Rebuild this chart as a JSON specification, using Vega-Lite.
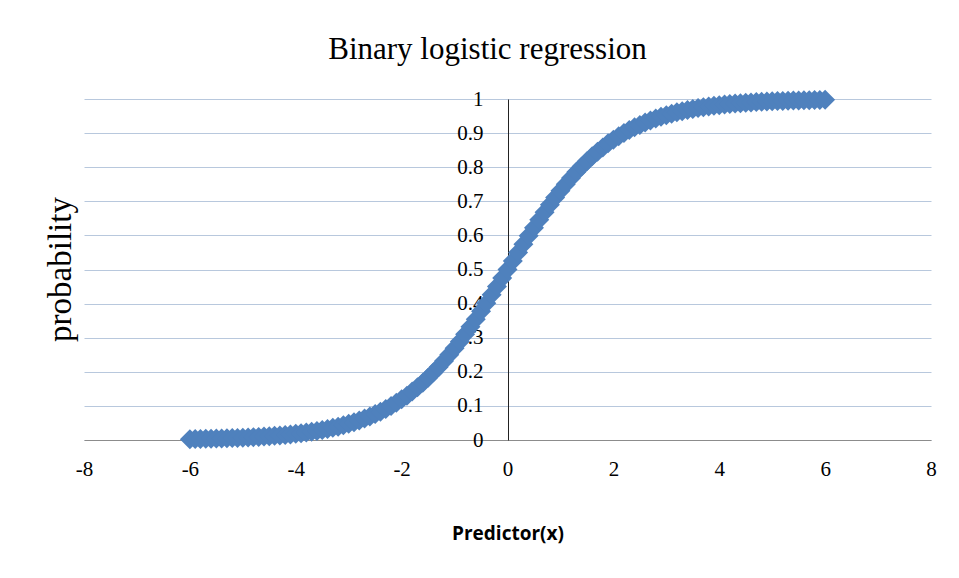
{
  "$schema": "https://vega.github.io/schema/vega-lite/v6.json",
  "width": 847,
  "height": 341,
  "autosize": {"type": "none"},
  "padding": {"left": 84, "top": 99, "right": 28, "bottom": 138},
  "background": "white",
  "title": {
    "text": "Binary logistic regression",
    "font": "Liberation Serif",
    "fontSize": 31,
    "fontWeight": "normal",
    "color": "#000000",
    "baseline": "alphabetic",
    "offset": -2,
    "dx": -20
  },
  "config": {
    "view": {"stroke": null}
  },
  "data": {
    "values": [
      {"x": -6.0, "p": 0.0025}, {"x": -5.9, "p": 0.0027}, {"x": -5.8, "p": 0.0030}, {"x": -5.7, "p": 0.0033}, {"x": -5.6, "p": 0.0037},
      {"x": -5.5, "p": 0.0041}, {"x": -5.4, "p": 0.0045}, {"x": -5.3, "p": 0.0050}, {"x": -5.2, "p": 0.0055}, {"x": -5.1, "p": 0.0061},
      {"x": -5.0, "p": 0.0067}, {"x": -4.9, "p": 0.0074}, {"x": -4.8, "p": 0.0082}, {"x": -4.7, "p": 0.0090}, {"x": -4.6, "p": 0.0100},
      {"x": -4.5, "p": 0.0110}, {"x": -4.4, "p": 0.0121}, {"x": -4.3, "p": 0.0134}, {"x": -4.2, "p": 0.0148}, {"x": -4.1, "p": 0.0163},
      {"x": -4.0, "p": 0.0180}, {"x": -3.9, "p": 0.0198}, {"x": -3.8, "p": 0.0219}, {"x": -3.7, "p": 0.0241}, {"x": -3.6, "p": 0.0266},
      {"x": -3.5, "p": 0.0293}, {"x": -3.4, "p": 0.0323}, {"x": -3.3, "p": 0.0356}, {"x": -3.2, "p": 0.0392}, {"x": -3.1, "p": 0.0431},
      {"x": -3.0, "p": 0.0474}, {"x": -2.9, "p": 0.0522}, {"x": -2.8, "p": 0.0573}, {"x": -2.7, "p": 0.0630}, {"x": -2.6, "p": 0.0691},
      {"x": -2.5, "p": 0.0759}, {"x": -2.4, "p": 0.0832}, {"x": -2.3, "p": 0.0911}, {"x": -2.2, "p": 0.0998}, {"x": -2.1, "p": 0.1091},
      {"x": -2.0, "p": 0.1192}, {"x": -1.9, "p": 0.1301}, {"x": -1.8, "p": 0.1419}, {"x": -1.7, "p": 0.1545}, {"x": -1.6, "p": 0.1680},
      {"x": -1.5, "p": 0.1824}, {"x": -1.4, "p": 0.1978}, {"x": -1.3, "p": 0.2142}, {"x": -1.2, "p": 0.2315}, {"x": -1.1, "p": 0.2497},
      {"x": -1.0, "p": 0.2689}, {"x": -0.9, "p": 0.2891}, {"x": -0.8, "p": 0.3100}, {"x": -0.7, "p": 0.3318}, {"x": -0.6, "p": 0.3543},
      {"x": -0.5, "p": 0.3775}, {"x": -0.4, "p": 0.4013}, {"x": -0.3, "p": 0.4256}, {"x": -0.2, "p": 0.4502}, {"x": -0.1, "p": 0.4750},
      {"x": 0.0, "p": 0.5000},
      {"x": 0.1, "p": 0.5250}, {"x": 0.2, "p": 0.5498}, {"x": 0.3, "p": 0.5744}, {"x": 0.4, "p": 0.5987}, {"x": 0.5, "p": 0.6225},
      {"x": 0.6, "p": 0.6457}, {"x": 0.7, "p": 0.6682}, {"x": 0.8, "p": 0.6900}, {"x": 0.9, "p": 0.7109}, {"x": 1.0, "p": 0.7311},
      {"x": 1.1, "p": 0.7503}, {"x": 1.2, "p": 0.7685}, {"x": 1.3, "p": 0.7858}, {"x": 1.4, "p": 0.8022}, {"x": 1.5, "p": 0.8176},
      {"x": 1.6, "p": 0.8320}, {"x": 1.7, "p": 0.8455}, {"x": 1.8, "p": 0.8581}, {"x": 1.9, "p": 0.8699}, {"x": 2.0, "p": 0.8808},
      {"x": 2.1, "p": 0.8909}, {"x": 2.2, "p": 0.9002}, {"x": 2.3, "p": 0.9089}, {"x": 2.4, "p": 0.9168}, {"x": 2.5, "p": 0.9241},
      {"x": 2.6, "p": 0.9309}, {"x": 2.7, "p": 0.9370}, {"x": 2.8, "p": 0.9427}, {"x": 2.9, "p": 0.9478}, {"x": 3.0, "p": 0.9526},
      {"x": 3.1, "p": 0.9569}, {"x": 3.2, "p": 0.9608}, {"x": 3.3, "p": 0.9644}, {"x": 3.4, "p": 0.9677}, {"x": 3.5, "p": 0.9707},
      {"x": 3.6, "p": 0.9734}, {"x": 3.7, "p": 0.9759}, {"x": 3.8, "p": 0.9781}, {"x": 3.9, "p": 0.9802}, {"x": 4.0, "p": 0.9820},
      {"x": 4.1, "p": 0.9837}, {"x": 4.2, "p": 0.9852}, {"x": 4.3, "p": 0.9866}, {"x": 4.4, "p": 0.9879}, {"x": 4.5, "p": 0.9890},
      {"x": 4.6, "p": 0.9900}, {"x": 4.7, "p": 0.9910}, {"x": 4.8, "p": 0.9918}, {"x": 4.9, "p": 0.9926}, {"x": 5.0, "p": 0.9933},
      {"x": 5.1, "p": 0.9939}, {"x": 5.2, "p": 0.9945}, {"x": 5.3, "p": 0.9950}, {"x": 5.4, "p": 0.9955}, {"x": 5.5, "p": 0.9959},
      {"x": 5.6, "p": 0.9963}, {"x": 5.7, "p": 0.9967}, {"x": 5.8, "p": 0.9970}, {"x": 5.9, "p": 0.9973}, {"x": 6.0, "p": 0.9975}
    ]
  },
  "mark": {"type": "point", "shape": "diamond", "filled": true, "color": "#4F81BD", "opacity": 1, "size": 400},
  "encoding": {
    "x": {
      "field": "x",
      "type": "quantitative",
      "scale": {"domain": [-8, 8], "nice": false, "zero": false},
      "axis": {
        "title": "Predictor(x)",
        "titleFont": "Open Sans",
        "titleFontSize": 19,
        "titleFontWeight": "bold",
        "titleColor": "#000000",
        "titlePadding": 45,
        "values": [-8, -6, -4, -2, 0, 2, 4, 6, 8],
        "labelExpr": "'' + datum.value",
        "labelFont": "Liberation Serif",
        "labelFontSize": 21,
        "labelColor": "#000000",
        "labelPadding": 18,
        "ticks": false,
        "grid": false,
        "domain": true,
        "domainColor": "#8c8c8c",
        "domainWidth": 1,
        "labelFlush": false
      }
    },
    "y": {
      "field": "p",
      "type": "quantitative",
      "scale": {"domain": [0, 1], "nice": false},
      "axis": {
        "title": "probability",
        "titleFont": "Liberation Serif",
        "titleFontSize": 33,
        "titleFontWeight": "normal",
        "titleColor": "#000000",
        "titleX": -438,
        "titleY": 170,
        "titleAngle": -90,
        "titleAlign": "center",
        "titleBaseline": "alphabetic",
        "offset": -424,
        "values": [0, 0.1, 0.2, 0.3, 0.4, 0.5, 0.6, 0.7, 0.8, 0.9, 1],
        "format": "~g",
        "labelFont": "Liberation Serif",
        "labelFontSize": 21,
        "labelColor": "#000000",
        "labelPadding": 25,
        "labelFlush": false,
        "ticks": false,
        "grid": true,
        "gridColor": "#b8c8dd",
        "gridWidth": 1,
        "domain": true,
        "domainColor": "#222222",
        "domainWidth": 1
      }
    }
  }
}
